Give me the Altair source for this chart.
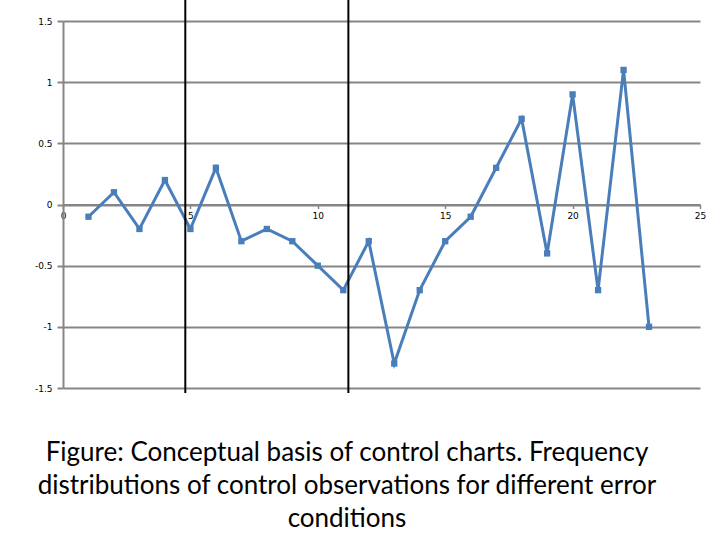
import altair as alt
import pandas as pd

xs = list(range(1, 24))
ys = [-0.1, 0.1, -0.2, 0.2, -0.2, 0.3, -0.3, -0.2, -0.3, -0.5, -0.7, -0.3,
      -1.3, -0.7, -0.3, -0.1, 0.3, 0.7, -0.4, 0.9, -0.7, 1.1, -1.0]
vlines = [4.8, 11.2]
caption = ["Figure: Conceptual basis of control charts. Frequency",
           "distributions of control observations for different error",
           "conditions"]

df = pd.DataFrame({"x": xs, "y": ys})
vdf = pd.DataFrame({"x": vlines})

W, H = 637, 367
xscale = alt.Scale(domain=[0, 25], nice=False, zero=False)
yscale = alt.Scale(domain=[-1.5, 1.5], nice=False)

base = alt.Chart(df)

line = base.mark_line(color="#4A7EBB", strokeWidth=3, clip=False).encode(
    x=alt.X("x:Q", scale=xscale,
            axis=alt.Axis(values=[0, 5, 10, 15, 20, 25], title=None, grid=False,
                          offset=-(H / 2), domainColor="#868686", domainWidth=2,
                          tickColor="#868686", tickSize=4, tickWidth=1.5,
                          labelFont="DejaVu Sans", labelFontSize=9, labelColor="#000000",
                          labelPadding=3, labelFlush=False)),
    y=alt.Y("y:Q", scale=yscale,
            axis=alt.Axis(values=[-1.5, -1, -0.5, 0, 0.5, 1, 1.5],
                          labelExpr="toString(datum.value)",
                          title=None, grid=True, gridColor="#868686", gridWidth=2,
                          domainColor="#868686", domainWidth=2,
                          tickColor="#868686", tickSize=6, tickWidth=2,
                          labelFont="DejaVu Sans", labelFontSize=9, labelColor="#000000",
                          labelPadding=5)),
)
pts = base.mark_square(color="#4A7EBB", size=40, opacity=1, clip=False).encode(
    x="x:Q", y="y:Q")

rules = alt.Chart(vdf).mark_rule(color="#000000", strokeWidth=2).encode(
    x="x:Q", y=alt.value(-21), y2=alt.value(372))

texts = []
for i, s in enumerate(caption):
    texts.append(
        alt.Chart(pd.DataFrame({"line": [s]})).mark_text(
            font="Lato", fontSize=26, color="#000000",
            align="center", baseline="middle").encode(
            text="line:N",
            x=alt.value(347 - 63),
            y=alt.value(453 - 21 + 33 * i),
        )
    )

chart = alt.layer(line, pts, rules, *texts).properties(
    width=W, height=H,
    autosize=alt.AutoSizeParams(type="none"),
    padding={"left": 63, "top": 21, "right": 20, "bottom": 152},
).configure_view(stroke=None)

chart.save("out.html", embed_options={"renderer": "svg", "actions": False})
